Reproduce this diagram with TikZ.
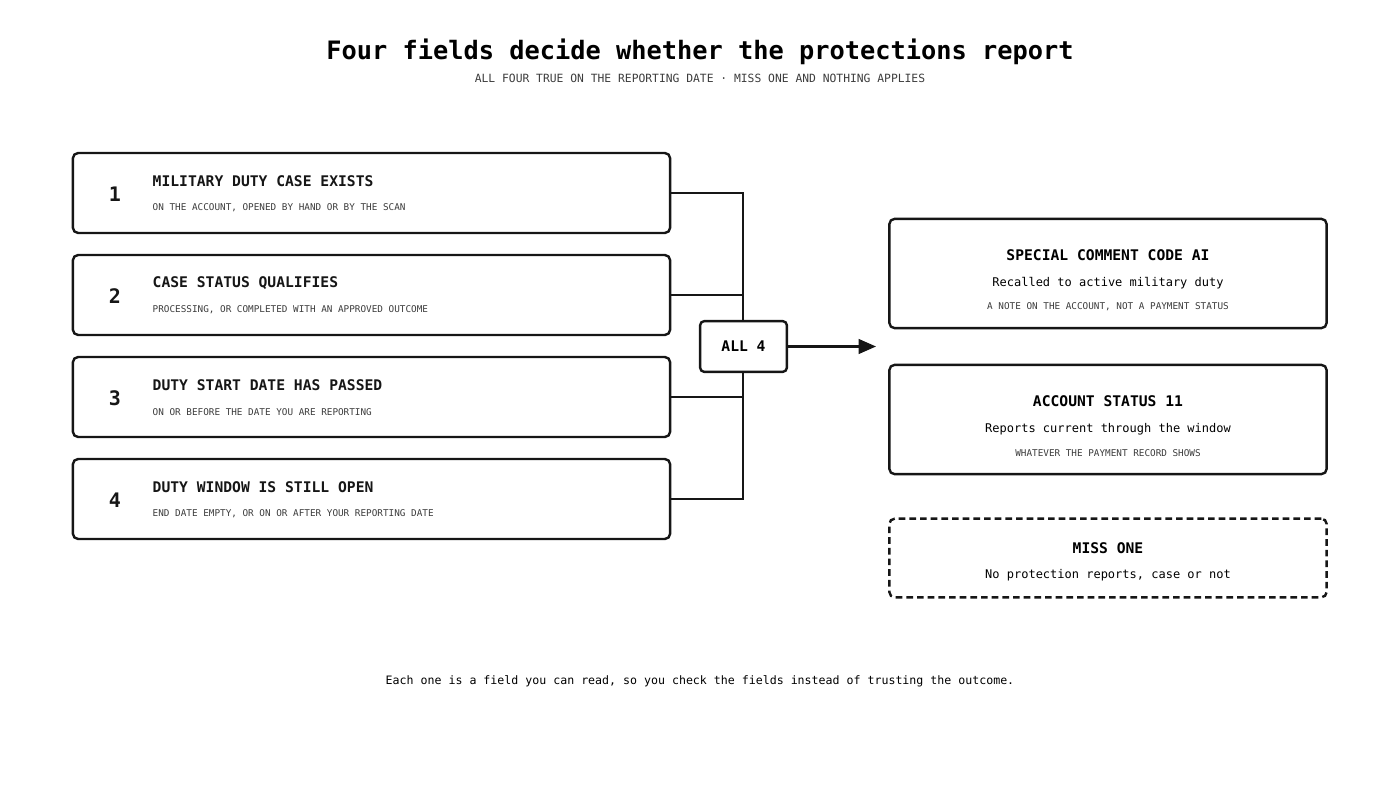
\documentclass[tikz,border=0pt]{standalone}
\usepackage{fontspec}
\setmainfont{DejaVu Sans Mono}
\usetikzlibrary{arrows.meta}
\definecolor{inkcolor}{RGB}{22,22,22}
\definecolor{greycolor}{RGB}{60,60,60}
\tikzset{
  field/.style={draw=inkcolor,line width=1.8pt,rounded corners=4pt,minimum width=448pt,minimum height=60pt},
  outbox/.style={draw=inkcolor,line width=1.8pt,rounded corners=4pt,minimum width=328pt,minimum height=82pt},
  num/.style={font=\fontsize{15}{18}\selectfont\bfseries,text=inkcolor},
  head/.style={font=\fontsize{11}{13}\selectfont\bfseries,text=inkcolor,anchor=west},
  note/.style={font=\fontsize{7}{8}\selectfont,text=greycolor,anchor=west},
  bus/.style={draw=inkcolor,line width=1.4pt}
}
\begin{document}
\begin{tikzpicture}[x=0.75pt,y=-0.75pt]
\useasboundingbox (0,0) rectangle (1400,788);
\node (title) at (700,52) {\fontsize{19}{22}\selectfont\bfseries Four fields decide whether the protections report};
\node (subtitle) at (700,78) {\fontsize{8.5}{10}\selectfont\color{greycolor}ALL FOUR TRUE ON THE REPORTING DATE · MISS ONE AND NOTHING APPLIES};
% the four fields
\node[field] (f1) at (371.5,193) {};
\node[field] (f2) at (371.5,295) {};
\node[field] (f3) at (371.5,397) {};
\node[field] (f4) at (371.5,499) {};
\node[num] (n1) at (115,194) {1};
\node[num] (n2) at (115,296) {2};
\node[num] (n3) at (115,398) {3};
\node[num] (n4) at (115,500) {4};
\node[head] (h1) at (148,181) {MILITARY DUTY CASE EXISTS};
\node[head] (h2) at (148,283) {CASE STATUS QUALIFIES};
\node[head] (h3) at (148,385) {DUTY START DATE HAS PASSED};
\node[head] (h4) at (148,487) {DUTY WINDOW IS STILL OPEN};
\node[note] (s1) at (148,208) {ON THE ACCOUNT, OPENED BY HAND OR BY THE SCAN};
\node[note] (s2) at (148,310) {PROCESSING, OR COMPLETED WITH AN APPROVED OUTCOME};
\node[note] (s3) at (148,412) {ON OR BEFORE THE DATE YOU ARE REPORTING};
\node[note] (s4) at (148,514) {END DATE EMPTY, OR ON OR AFTER YOUR REPORTING DATE};
% bus
\coordinate (top) at (743,193);
\coordinate (bot) at (743,499);
\draw[bus] (f1.east) -- (top) -- (bot) -- (f4.east);
\draw[bus] (f2.east) -- (f2.east -| top);
\draw[bus] (f3.east) -- (f3.east -| top);
\node[draw=inkcolor,line width=1.8pt,rounded corners=3pt,fill=white,minimum width=65pt,minimum height=38pt,font=\fontsize{11}{13}\selectfont\bfseries] (all) at (743.5,346.5) {ALL 4};
\coordinate (tip) at (876,346.5);
\draw[bus,line width=1.6pt,-{Triangle[length=13pt,width=11pt]}] (all.east) -- (tip);
% outcomes
\node[outbox] (o1) at (1108,273.5) {};
\node[outbox] (o2) at (1108,419.5) {};
\node[outbox,dashed,dash pattern=on 5pt off 3pt,minimum height=59pt] (o3) at (1108,558) {};
\node[font=\fontsize{11}{13}\selectfont\bfseries] (t1) at (1108,255) {SPECIAL COMMENT CODE AI};
\node[font=\fontsize{9}{11}\selectfont] (d1) at (1108,283) {Recalled to active military duty};
\node[font=\fontsize{7}{8}\selectfont,text=greycolor] (e1) at (1108,307) {A NOTE ON THE ACCOUNT, NOT A PAYMENT STATUS};
\node[font=\fontsize{11}{13}\selectfont\bfseries] (t2) at (1108,401) {ACCOUNT STATUS 11};
\node[font=\fontsize{9}{11}\selectfont] (d2) at (1108,429) {Reports current through the window};
\node[font=\fontsize{7}{8}\selectfont,text=greycolor] (e2) at (1108,453) {WHATEVER THE PAYMENT RECORD SHOWS};
\node[font=\fontsize{11}{13}\selectfont\bfseries] (t3) at (1108,548) {MISS ONE};
\node[font=\fontsize{9}{11}\selectfont] (d3) at (1108,575) {No protection reports, case or not};
\node[font=\fontsize{8.7}{11}\selectfont] (footer) at (700,681) {Each one is a field you can read, so you check the fields instead of trusting the outcome.};
\end{tikzpicture}
\end{document}
